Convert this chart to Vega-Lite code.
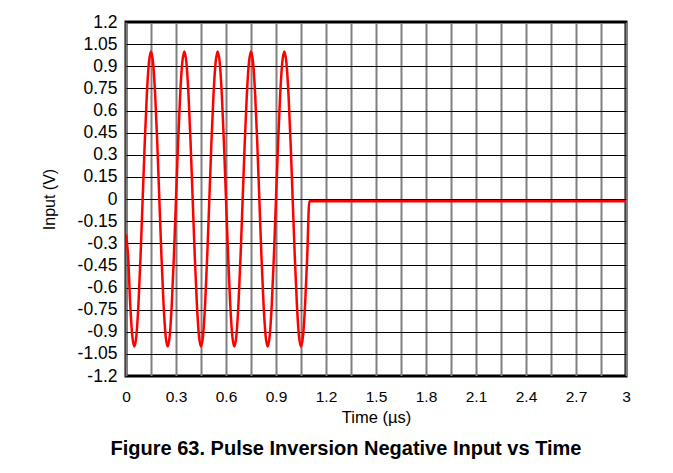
{
  "$schema": "https://vega.github.io/schema/vega-lite/v6.json",
  "width": 500,
  "height": 354,
  "autosize": {"type": "none"},
  "padding": {"left": 126, "top": 22, "right": 47, "bottom": 97},
  "background": "white",
  "config": {
    "font": "Liberation Sans",
    "view": {"stroke": "black", "strokeWidth": 3}
  },
  "title": {
    "text": "Figure 63. Pulse Inversion Negative Input vs Time",
    "orient": "bottom",
    "anchor": "middle",
    "frame": "group",
    "dx": -30,
    "offset": 13,
    "fontSize": 20,
    "fontWeight": "bold",
    "font": "Liberation Sans",
    "color": "black"
  },
  "data": {
    "values": [
      {"t": 0, "v": -0.24},
      {"t": 0.0125, "v": -0.383},
      {"t": 0.025, "v": -0.707},
      {"t": 0.0375, "v": -0.924},
      {"t": 0.05, "v": -1},
      {"t": 0.0625, "v": -0.924},
      {"t": 0.075, "v": -0.707},
      {"t": 0.0875, "v": -0.383},
      {"t": 0.1, "v": 0},
      {"t": 0.1125, "v": 0.383},
      {"t": 0.125, "v": 0.707},
      {"t": 0.1375, "v": 0.924},
      {"t": 0.15, "v": 1},
      {"t": 0.1625, "v": 0.924},
      {"t": 0.175, "v": 0.707},
      {"t": 0.1875, "v": 0.383},
      {"t": 0.2, "v": 0},
      {"t": 0.2125, "v": -0.383},
      {"t": 0.225, "v": -0.707},
      {"t": 0.2375, "v": -0.924},
      {"t": 0.25, "v": -1},
      {"t": 0.2625, "v": -0.924},
      {"t": 0.275, "v": -0.707},
      {"t": 0.2875, "v": -0.383},
      {"t": 0.3, "v": 0},
      {"t": 0.3125, "v": 0.383},
      {"t": 0.325, "v": 0.707},
      {"t": 0.3375, "v": 0.924},
      {"t": 0.35, "v": 1},
      {"t": 0.3625, "v": 0.924},
      {"t": 0.375, "v": 0.707},
      {"t": 0.3875, "v": 0.383},
      {"t": 0.4, "v": 0},
      {"t": 0.4125, "v": -0.383},
      {"t": 0.425, "v": -0.707},
      {"t": 0.4375, "v": -0.924},
      {"t": 0.45, "v": -1},
      {"t": 0.4625, "v": -0.924},
      {"t": 0.475, "v": -0.707},
      {"t": 0.4875, "v": -0.383},
      {"t": 0.5, "v": 0},
      {"t": 0.5125, "v": 0.383},
      {"t": 0.525, "v": 0.707},
      {"t": 0.5375, "v": 0.924},
      {"t": 0.55, "v": 1},
      {"t": 0.5625, "v": 0.924},
      {"t": 0.575, "v": 0.707},
      {"t": 0.5875, "v": 0.383},
      {"t": 0.6, "v": 0},
      {"t": 0.6125, "v": -0.383},
      {"t": 0.625, "v": -0.707},
      {"t": 0.6375, "v": -0.924},
      {"t": 0.65, "v": -1},
      {"t": 0.6625, "v": -0.924},
      {"t": 0.675, "v": -0.707},
      {"t": 0.6875, "v": -0.383},
      {"t": 0.7, "v": 0},
      {"t": 0.7125, "v": 0.383},
      {"t": 0.725, "v": 0.707},
      {"t": 0.7375, "v": 0.924},
      {"t": 0.75, "v": 1},
      {"t": 0.7625, "v": 0.924},
      {"t": 0.775, "v": 0.707},
      {"t": 0.7875, "v": 0.383},
      {"t": 0.8, "v": 0},
      {"t": 0.8125, "v": -0.383},
      {"t": 0.825, "v": -0.707},
      {"t": 0.8375, "v": -0.924},
      {"t": 0.85, "v": -1},
      {"t": 0.8625, "v": -0.924},
      {"t": 0.875, "v": -0.707},
      {"t": 0.8875, "v": -0.383},
      {"t": 0.9, "v": 0},
      {"t": 0.9125, "v": 0.383},
      {"t": 0.925, "v": 0.707},
      {"t": 0.9375, "v": 0.924},
      {"t": 0.95, "v": 1},
      {"t": 0.9625, "v": 0.924},
      {"t": 0.975, "v": 0.707},
      {"t": 0.9875, "v": 0.383},
      {"t": 1.0, "v": 0},
      {"t": 1.0125, "v": -0.383},
      {"t": 1.025, "v": -0.707},
      {"t": 1.0375, "v": -0.924},
      {"t": 1.05, "v": -1},
      {"t": 1.0625, "v": -0.924},
      {"t": 1.075, "v": -0.707},
      {"t": 1.0875, "v": -0.383},
      {"t": 1.1, "v": -0.015},
      {"t": 3, "v": -0.015}
    ]
  },
  "mark": {"type": "line", "color": "#ff0000", "strokeWidth": 2.5, "interpolate": "monotone", "clip": true},
  "encoding": {
    "x": {
      "field": "t",
      "type": "quantitative",
      "scale": {"domain": [0, 3], "nice": false, "zero": false},
      "axis": {
        "title": "Time (µs)",
        "values": [0, 0.15, 0.3, 0.45, 0.6, 0.75, 0.9, 1.05, 1.2, 1.35, 1.5, 1.65, 1.8, 1.95, 2.1, 2.25, 2.4, 2.55, 2.7, 2.85, 3],
        "labelExpr": "round(datum.value / 0.15) % 2 == 1 ? '' : '' + datum.value",
        "grid": true,
        "gridColor": "#808080",
        "gridWidth": 2,
        "gridOpacity": 1,
        "domain": false,
        "ticks": false,
        "tickSize": 0,
        "labelPadding": 13,
        "labelFontSize": 15.5,
        "labelColor": "black",
        "labelFont": "Liberation Sans",
        "labelOverlap": false,
        "labelFlush": false,
        "titleFontSize": 16.5,
        "titleFontWeight": "normal",
        "titleColor": "black",
        "titleFont": "Liberation Sans",
        "titlePadding": 5
      }
    },
    "y": {
      "field": "v",
      "type": "quantitative",
      "scale": {"domain": [-1.2, 1.2], "nice": false, "zero": false},
      "axis": {
        "title": "Input (V)",
        "values": [-1.2, -1.05, -0.9, -0.75, -0.6, -0.45, -0.3, -0.15, 0, 0.15, 0.3, 0.45, 0.6, 0.75, 0.9, 1.05, 1.2],
        "labelExpr": "'' + datum.value",
        "grid": true,
        "gridColor": "black",
        "gridWidth": 1,
        "gridOpacity": 1,
        "domain": false,
        "ticks": false,
        "tickSize": 0,
        "labelPadding": 9,
        "labelFontSize": 17.5,
        "labelColor": "black",
        "labelFont": "Liberation Sans",
        "labelOverlap": false,
        "labelFlush": false,
        "titleFontSize": 16,
        "titleFontWeight": "normal",
        "titleColor": "black",
        "titleFont": "Liberation Sans",
        "titlePadding": 20
      }
    }
  }
}
